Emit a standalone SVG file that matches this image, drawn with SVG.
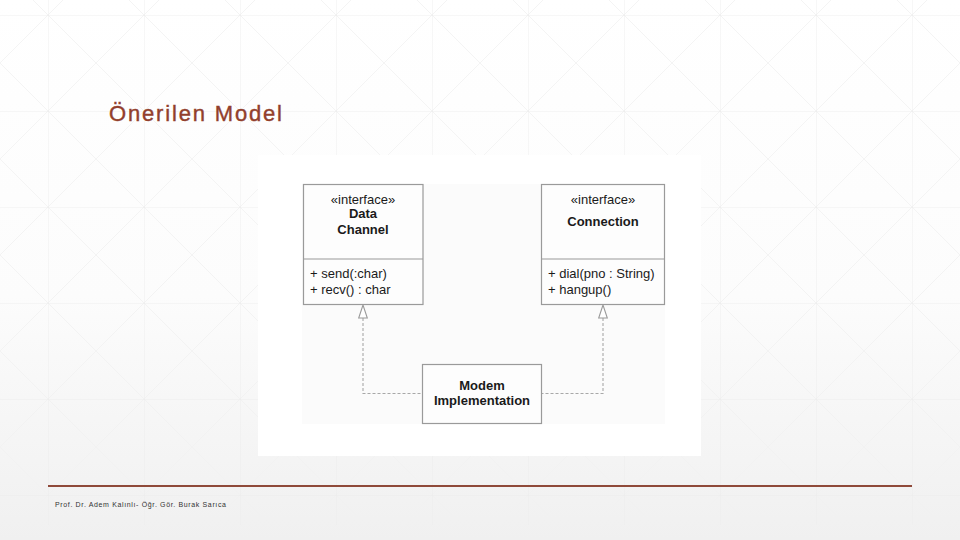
<svg xmlns="http://www.w3.org/2000/svg" width="960" height="540" viewBox="0 0 960 540">
  <defs>
    <linearGradient id="bg" x1="0" y1="0" x2="0" y2="1">
      <stop offset="0" stop-color="#ffffff"/>
      <stop offset="0.55" stop-color="#fcfcfc"/>
      <stop offset="1" stop-color="#f0f0f0"/>
    </linearGradient>
    <pattern id="grid" patternUnits="userSpaceOnUse" x="48" y="15" width="96" height="96">
      <path d="M0 0L96 96M96 0L0 96" fill="none" stroke="#f1f1f1" stroke-width="0.8"/>
      <path d="M0 0V96M0 0H96" fill="none" stroke="#ebebeb" stroke-width="0.8"/>
    </pattern>
    <style>
      .box { fill: #fdfdfd; stroke: #9a9a9a; stroke-width: 1.2; }
      .div { stroke: #9a9a9a; stroke-width: 1.2; }
      .txt { font-family: "Liberation Sans", Arial, sans-serif; font-size: 13px; fill: #1a1a1a; }
      .b { font-weight: bold; }
      .c { text-anchor: middle; }
      .dash { fill: none; stroke: #a8a8a8; stroke-width: 1.1; stroke-dasharray: 3 2; }
      .head { fill: #ffffff; stroke: #9a9a9a; stroke-width: 1.1; }
    </style>
  </defs>

  <!-- slide background -->
  <rect x="0" y="0" width="960" height="540" fill="url(#bg)"/>
  <rect x="0" y="0" width="960" height="525" fill="url(#grid)"/>

  <!-- title -->
  <text x="109" y="121" textLength="173" lengthAdjust="spacing" font-family="'Liberation Sans', Arial, sans-serif" font-size="22" fill="#923f2c" stroke="#923f2c" stroke-width="0.4">Önerilen Model</text>

  <!-- picture area -->
  <rect x="258" y="155" width="443" height="301" fill="#ffffff"/>
  <rect x="302" y="184" width="363" height="240" fill="#fbfbfb"/>

  <!-- connectors -->
  <g id="connectors">
    <polyline class="dash" points="363,318 363,393.5 422,393.5"/>
    <polygon class="head" points="363,305 358.7,318 367.3,318"/>
    <polyline class="dash" points="603,318 603,393.5 542,393.5"/>
    <polygon class="head" points="603,305 598.7,318 607.3,318"/>
  </g>

  <g id="data-channel">
    <rect class="box" x="303.5" y="184.5" width="119.5" height="120"/>
    <line class="div" x1="303.5" y1="259" x2="423" y2="259"/>
    <text class="txt c" x="363" y="204">«interface»</text>
    <text class="txt b c" x="363" y="218">Data</text>
    <text class="txt b c" x="363" y="234">Channel</text>
    <text class="txt" x="310" y="278">+ send(:char)</text>
    <text class="txt" x="310" y="293.5">+ recv() : char</text>
  </g>

  <g id="connection">
    <rect class="box" x="541.5" y="184.5" width="123" height="120"/>
    <line class="div" x1="541.5" y1="259" x2="664.5" y2="259"/>
    <text class="txt c" x="603" y="204">«interface»</text>
    <text class="txt b c" x="603" y="226">Connection</text>
    <text class="txt" x="548" y="278">+ dial(pno : String)</text>
    <text class="txt" x="548" y="293.5">+ hangup()</text>
  </g>

  <g id="modem-implementation">
    <rect class="box" x="422.5" y="364.5" width="119" height="59"/>
    <text class="txt b c" x="482" y="389.5">Modem</text>
    <text class="txt b c" x="482" y="405">Implementation</text>
  </g>

  <!-- footer -->
  <line x1="48" y1="486" x2="912" y2="486" stroke="#8f4a3a" stroke-width="2"/>
  <text x="55" y="507" textLength="171" lengthAdjust="spacing" font-family="'Liberation Sans', Arial, sans-serif" font-size="7" fill="#333333">Prof. Dr. Adem Kalınlı- Öğr. Gör. Burak Sarıca</text>
</svg>
